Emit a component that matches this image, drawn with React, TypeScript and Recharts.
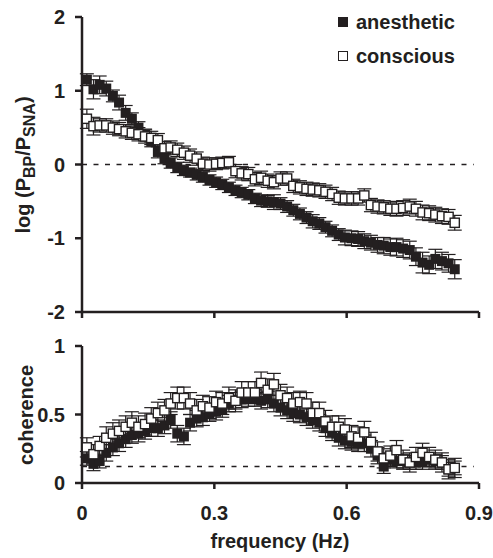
import {
  ScatterChart,
  Scatter,
  XAxis,
  YAxis,
  ErrorBar,
  ReferenceLine,
} from "recharts";

// frequency bins (Hz)
const freq = [
  0.011, 0.026, 0.04, 0.055, 0.07, 0.084, 0.099, 0.113, 0.128, 0.143,
  0.157, 0.172, 0.187, 0.201, 0.216, 0.231, 0.245, 0.26, 0.274, 0.289,
  0.304, 0.318, 0.333, 0.348, 0.362, 0.377, 0.392, 0.406, 0.421, 0.435,
  0.45, 0.465, 0.479, 0.494, 0.509, 0.523, 0.538, 0.552, 0.567, 0.582,
  0.596, 0.611, 0.626, 0.64, 0.655, 0.67, 0.684, 0.699, 0.713, 0.728,
  0.743, 0.757, 0.772, 0.787, 0.801, 0.816, 0.831, 0.845,
];

// log(P_BP / P_SNA)
const logAnesthetic = [
  1.15, 1.02, 1.08, 1.03, 0.93, 0.84, 0.7, 0.62, 0.5, 0.4,
  0.31, 0.17, 0.08, 0.02, -0.04, -0.08, -0.11, -0.14, -0.17, -0.21,
  -0.24, -0.27, -0.31, -0.35, -0.38, -0.41, -0.46, -0.49, -0.5, -0.51,
  -0.53, -0.57, -0.62, -0.67, -0.72, -0.77, -0.8, -0.85, -0.9, -0.95,
  -0.99, -1.0, -1.01, -1.04, -1.06, -1.09, -1.1, -1.12, -1.12, -1.14,
  -1.16, -1.25, -1.33, -1.36, -1.28, -1.31, -1.34, -1.42,
];
const logAnestheticErr = [
  0.08, 0.13, 0.12, 0.1, 0.08, 0.1, 0.1, 0.08, 0.08, 0.08,
  0.07, 0.08, 0.07, 0.07, 0.07, 0.07, 0.06, 0.07, 0.07, 0.07,
  0.07, 0.07, 0.07, 0.07, 0.07, 0.07, 0.07, 0.08, 0.08, 0.1,
  0.08, 0.08, 0.08, 0.08, 0.08, 0.09, 0.08, 0.08, 0.08, 0.08,
  0.1, 0.1, 0.1, 0.1, 0.1, 0.1, 0.11, 0.11, 0.12, 0.12,
  0.12, 0.12, 0.14, 0.12, 0.13, 0.12, 0.12, 0.13,
];
const logConscious = [
  0.62, 0.52, 0.53, 0.53, 0.5, 0.48, 0.45, 0.43, 0.41, 0.38,
  0.36, 0.33, 0.22, 0.23, 0.2, 0.16, 0.12, 0.08, 0.01, 0.0,
  0.01, 0.02, 0.03, -0.09, -0.12, -0.13, -0.2, -0.18, -0.22, -0.24,
  -0.19, -0.19, -0.29, -0.31, -0.33, -0.34, -0.35, -0.37, -0.4, -0.45,
  -0.46, -0.46, -0.46, -0.42, -0.55, -0.57, -0.58, -0.6, -0.6, -0.59,
  -0.57, -0.6, -0.65, -0.66, -0.68, -0.7, -0.71, -0.79,
];
const logConsciousErr = [
  0.13, 0.12, 0.09, 0.09, 0.09, 0.09, 0.09, 0.09, 0.09, 0.09,
  0.09, 0.09, 0.09, 0.09, 0.09, 0.09, 0.09, 0.09, 0.09, 0.09,
  0.08, 0.08, 0.08, 0.09, 0.09, 0.09, 0.09, 0.09, 0.09, 0.09,
  0.09, 0.09, 0.09, 0.09, 0.09, 0.09, 0.09, 0.09, 0.09, 0.09,
  0.09, 0.09, 0.09, 0.09, 0.09, 0.09, 0.09, 0.09, 0.1, 0.1,
  0.1, 0.1, 0.1, 0.1, 0.1, 0.1, 0.1, 0.1,
];

// coherence
const cohAnesthetic = [
  0.18, 0.14, 0.16, 0.22, 0.26, 0.29, 0.32, 0.35, 0.36, 0.38,
  0.4, 0.4, 0.42, 0.46, 0.36, 0.34, 0.44, 0.47, 0.48, 0.51,
  0.52, 0.54, 0.58, 0.6, 0.61, 0.62, 0.62, 0.6, 0.61, 0.58,
  0.55, 0.53, 0.51, 0.5, 0.48, 0.46, 0.44, 0.4, 0.37, 0.33,
  0.31, 0.3, 0.29, 0.29, 0.25, 0.2, 0.12, 0.17, 0.16, 0.16,
  0.15, 0.15, 0.15, 0.17, 0.16, 0.15, 0.1, 0.11,
];
const cohAnestheticErr = [
  0.05, 0.05, 0.05, 0.06, 0.06, 0.06, 0.06, 0.06, 0.06, 0.06,
  0.06, 0.06, 0.06, 0.06, 0.06, 0.06, 0.06, 0.06, 0.06, 0.06,
  0.06, 0.06, 0.06, 0.06, 0.06, 0.06, 0.06, 0.06, 0.06, 0.06,
  0.06, 0.06, 0.06, 0.06, 0.06, 0.06, 0.06, 0.06, 0.06, 0.06,
  0.06, 0.06, 0.06, 0.06, 0.06, 0.06, 0.05, 0.05, 0.05, 0.05,
  0.05, 0.05, 0.05, 0.05, 0.05, 0.05, 0.05, 0.05,
];
const cohConscious = [
  0.26, 0.21, 0.27, 0.33, 0.36, 0.38, 0.41, 0.44, 0.41, 0.43,
  0.47, 0.51, 0.53, 0.58, 0.62, 0.62, 0.58, 0.53, 0.56, 0.55,
  0.59, 0.58, 0.62, 0.6, 0.66, 0.66, 0.66, 0.73, 0.68, 0.72,
  0.64, 0.62, 0.58, 0.59, 0.58, 0.51, 0.51, 0.45, 0.41, 0.41,
  0.39, 0.34, 0.33, 0.37, 0.3, 0.23, 0.18, 0.2, 0.24, 0.17,
  0.15, 0.19, 0.22, 0.19, 0.17, 0.15, 0.1, 0.11,
];
const cohConsciousErr = [
  0.07, 0.07, 0.07, 0.08, 0.08, 0.08, 0.08, 0.08, 0.08, 0.08,
  0.08, 0.08, 0.08, 0.08, 0.08, 0.08, 0.08, 0.08, 0.08, 0.08,
  0.08, 0.08, 0.08, 0.08, 0.08, 0.08, 0.08, 0.08, 0.08, 0.08,
  0.08, 0.08, 0.08, 0.08, 0.08, 0.08, 0.08, 0.08, 0.08, 0.08,
  0.08, 0.08, 0.08, 0.08, 0.07, 0.07, 0.07, 0.07, 0.07, 0.07,
  0.07, 0.07, 0.07, 0.07, 0.07, 0.07, 0.07, 0.07,
];

const xTicks = [0, 0.3, 0.6, 0.9];
const logTicks = [-2, -1, 0, 1, 2];
const cohTicks = [0, 0.5, 1];
const cohThreshold = 0.12;

const ink = "#231f20";
const font = "'Liberation Sans', Arial, Helvetica, sans-serif";

const build = (ys: number[], errs: number[]) =>
  freq.map((x, i) => ({ x, y: ys[i], err: errs[i] }));

const filledSquare = (p: any) => (
  <rect x={p.cx - 5} y={p.cy - 5} width={10} height={10} fill={ink} />
);
const openSquare = (p: any) => (
  <rect
    x={p.cx - 4.6}
    y={p.cy - 4.6}
    width={9.2}
    height={9.2}
    fill="#fff"
    stroke={ink}
    strokeWidth={1.4}
  />
);

const axisStyle = { stroke: ink, strokeWidth: 2.5 };
const tickFont = { fill: ink, fontSize: 20, fontWeight: 700, fontFamily: font };

function Series({ data, shape }: { data: any[]; shape: any }) {
  return (
    <Scatter data={data} dataKey="y" shape={shape} isAnimationActive={false}>
      <ErrorBar
        dataKey="err"
        direction="y"
        width={7}
        stroke={ink}
        strokeWidth={1.2}
        isAnimationActive={false}
      />
    </Scatter>
  );
}

export default function App() {
  const topA = build(logAnesthetic, logAnestheticErr);
  const topC = build(logConscious, logConsciousErr);
  const botA = build(cohAnesthetic, cohAnestheticErr);
  const botC = build(cohConscious, cohConsciousErr);

  return (
    <div
      style={{
        position: "absolute",
        left: 0,
        top: 0,
        width: 493,
        height: 558,
        background: "#fff",
        fontFamily: font,
      }}
    >
      <div style={{ position: "absolute", left: 0, top: 0 }}>
        <ScatterChart
          width={493}
          height={330}
          margin={{ top: 17, right: 14, bottom: 8, left: 22 }}
        >
          <XAxis
            type="number"
            dataKey="x"
            domain={[0, 0.9]}
            ticks={xTicks}
            height={10}
            axisLine={axisStyle}
            tickLine={axisStyle}
            tickSize={6}
            tickFormatter={() => ""}
          />
          <YAxis
            type="number"
            dataKey="y"
            domain={[-2, 2]}
            ticks={logTicks}
            width={60}
            axisLine={axisStyle}
            tickLine={axisStyle}
            tickSize={7}
            tickMargin={10}
            tick={tickFont}
            label={{
              content: () => (
                <text
                  x={30}
                  y={165}
                  transform="rotate(-90, 30, 165)"
                  textAnchor="middle"
                  fill={ink}
                  fontSize={20}
                  fontWeight={700}
                  fontFamily={font}
                >
                  log (P
                  <tspan dy={5} fontSize={16}>
                    BP
                  </tspan>
                  <tspan dy={-5}>/P</tspan>
                  <tspan dy={5} fontSize={16}>
                    SNA
                  </tspan>
                  <tspan dy={-5}>)</tspan>
                </text>
              ),
            }}
          />
          <ReferenceLine
            segment={[
              { x: 0, y: 0 },
              { x: 0.888, y: 0 },
            ]}
            stroke={ink}
            strokeWidth={1.5}
            strokeDasharray="5 6.5"
          />
          <Series data={topA} shape={filledSquare} />
          <Series data={topC} shape={openSquare} />
        </ScatterChart>
      </div>

      <div style={{ position: "absolute", left: 0, top: 330 }}>
        <ScatterChart
          width={493}
          height={228}
          margin={{ top: 16, right: 14, bottom: 0, left: 22 }}
        >
          <XAxis
            type="number"
            dataKey="x"
            domain={[0, 0.9]}
            ticks={xTicks}
            height={75}
            axisLine={axisStyle}
            tickLine={axisStyle}
            tickSize={6}
            tickMargin={17}
            tick={tickFont}
            label={{
              content: () => (
                <text
                  x={280}
                  y={218}
                  textAnchor="middle"
                  fill={ink}
                  fontSize={20}
                  fontWeight={700}
                  fontFamily={font}
                >
                  frequency (Hz)
                </text>
              ),
            }}
          />
          <YAxis
            type="number"
            dataKey="y"
            domain={[0, 1]}
            ticks={cohTicks}
            width={60}
            axisLine={axisStyle}
            tickLine={axisStyle}
            tickSize={7}
            tickMargin={10}
            tick={tickFont}
            label={{
              content: () => (
                <text
                  x={33}
                  y={85}
                  transform="rotate(-90, 33, 85)"
                  textAnchor="middle"
                  fill={ink}
                  fontSize={20}
                  fontWeight={700}
                  fontFamily={font}
                >
                  coherence
                </text>
              ),
            }}
          />
          <ReferenceLine
            segment={[
              { x: 0, y: cohThreshold },
              { x: 0.888, y: cohThreshold },
            ]}
            stroke={ink}
            strokeWidth={1.5}
            strokeDasharray="5 6.5"
          />
          <Series data={botA} shape={filledSquare} />
          <Series data={botC} shape={openSquare} />
        </ScatterChart>
      </div>

      <div
        style={{
          position: "absolute",
          left: 338,
          top: 8,
          color: ink,
          fontSize: 20,
          fontWeight: 700,
          lineHeight: "28px",
        }}
      >
        <div style={{ display: "flex", alignItems: "center", height: 28 }}>
          <span
            style={{ width: 10, height: 10, background: ink, marginRight: 8 }}
          />
          anesthetic
        </div>
        <div
          style={{
            display: "flex",
            alignItems: "center",
            height: 28,
            marginTop: 6,
          }}
        >
          <span
            style={{
              width: 8,
              height: 8,
              border: `1.3px solid ${ink}`,
              marginRight: 8,
            }}
          />
          conscious
        </div>
      </div>
    </div>
  );
}
